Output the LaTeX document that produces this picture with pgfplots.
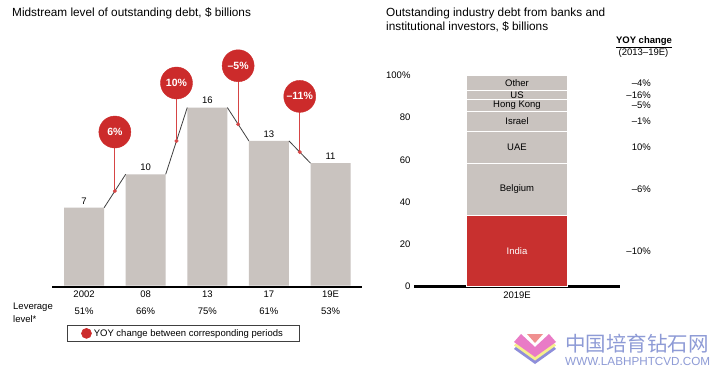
\documentclass[border=0pt]{standalone}
\usepackage{pgfplots}
\pgfplotsset{compat=1.18}
\usepackage{fontspec}
\setmainfont{Liberation Sans}
\newfontfamily\cjk{Noto Sans CJK SC}
\definecolor{barGrey}{RGB}{201,195,191}
\definecolor{circRed}{RGB}{204,43,43}
\definecolor{indiaRed}{RGB}{200,48,47}
\definecolor{stemRed}{RGB}{214,69,69}
\definecolor{lineGrey}{RGB}{64,64,64}
\definecolor{wmBlue}{RGB}{142,155,214}
\definecolor{wmPink}{RGB}{233,123,198}
\definecolor{wmSalmon}{RGB}{240,144,144}
\definecolor{wmYellow}{RGB}{246,240,140}
\definecolor{wmViolet}{RGB}{142,142,218}
\newcommand\sm{\fontsize{9.5}{11.4}\selectfont}
\newcommand\ttl{\fontsize{11.8}{13.4}\selectfont}
\pgfplotsset{/pgf/number format/assume math mode=true}
\begin{document}
\begin{tikzpicture}
\useasboundingbox (0pt,0pt) rectangle (714pt,367pt);
\fill[white] (0pt,0pt) rectangle (714pt,367pt);
% titles
\node[anchor=base west, inner sep=0, font=\ttl] at (12pt,350.3pt) {Midstream level of outstanding debt, \$ billions};
\node[anchor=base west, inner sep=0, font=\ttl] at (386pt,350pt) {Outstanding industry debt from banks and};
\node[anchor=base west, inner sep=0, font=\ttl] at (386pt,336.3pt) {institutional investors, \$ billions};
% leverage label
\node[anchor=base west, inner sep=0, font=\sm] at (13pt,57.3pt) {Leverage};
\node[anchor=base west, inner sep=0, font=\sm] at (13pt,44.7pt) {level*};

\begin{axis}[
  at={(52pt,81.3pt)}, anchor=south west, scale only axis,
  width=310pt, height=245pt,
  xmin=-0.52, xmax=4.51, ymin=0, ymax=22,
  axis x line*=bottom, axis y line*=left,
  y axis line style={draw=none}, ytick=\empty,
  x axis line style={draw=none},
  xtick={0,1,2,3,4},
  xticklabels={{2002\\51\%},{08\\66\%},{13\\75\%},{17\\61\%},{19E\\53\%}},
  major tick length=0,
  xticklabel style={align=center, font=\fontsize{9.5}{16.7}\selectfont, yshift=-2pt},
  clip=false,
  legend style={at={(0.048,-0.16)}, anchor=north west, draw=black!75, line width=0.6pt,
    font=\sm, inner xsep=14pt, inner ysep=2pt, legend cell align=left},
]
\addplot[ybar, bar width=40pt, fill=barGrey, draw=none, forget plot,
  nodes near coords, nodes near coords style={font=\sm, text=black}]
  coordinates {(0,7) (1,10) (2,16) (3,13) (4,11)};
\addplot[black, line width=2.5pt, forget plot] coordinates {(-0.52,-0.1) (4.51,-0.1)};
\addplot[lineGrey, line width=0.8pt, forget plot] coordinates {(0.325,7) (0.675,10)};
\addplot[lineGrey, line width=0.8pt, forget plot] coordinates {(1.325,10) (1.675,16)};
\addplot[lineGrey, line width=0.8pt, forget plot] coordinates {(2.325,16) (2.675,13)};
\addplot[lineGrey, line width=0.8pt, forget plot] coordinates {(3.325,13) (3.675,11)};
\addplot[stemRed, line width=0.8pt, forget plot] coordinates {(0.5,8.5) (0.5,13.8)};
\addplot[stemRed, line width=0.8pt, forget plot] coordinates {(1.5,13) (1.5,18.2)};
\addplot[stemRed, line width=0.8pt, forget plot] coordinates {(2.5,14.5) (2.5,19.75)};
\addplot[stemRed, line width=0.8pt, forget plot] coordinates {(3.5,12) (3.5,17.0)};
\addplot[only marks, mark=*, mark size=1.8pt, stemRed, forget plot]
  coordinates {(0.5,8.5) (1.5,13) (2.5,14.5) (3.5,12)};
\addplot[only marks, mark=*, mark size=16pt, circRed, forget plot,
  point meta=explicit symbolic, nodes near coords,
  nodes near coords style={anchor=center, text=white, font=\bfseries\fontsize{10.5}{12}\selectfont}]
  coordinates {(0.5,13.8) [6\%] (1.5,18.2) [10\%] (2.5,19.75) [–5\%] (3.5,17.0) [–11\%]};
\addlegendimage{legend image code/.code={\fill[circRed] (8pt,0pt) circle (5pt);}}
\addlegendentry{YOY change between corresponding periods}
\end{axis}

\begin{axis}[
  at={(414pt,80.5pt)}, anchor=south west, scale only axis,
  width=206pt, height=211pt,
  xmin=-1, xmax=1, ymin=0, ymax=100,
  ybar stacked, bar width=101pt,
  axis x line*=bottom, axis y line*=left,
  y axis line style={draw=none},
  x axis line style={line width=2.5pt,-},
  xtick={0}, xticklabels={2019E},
  ytick={0,20,40,60,80,100}, yticklabels={0,20,40,60,80,100\%},
  major tick length=0,
  xticklabel style={font=\sm, yshift=-2pt},
  yticklabel style={font=\sm},
  clip=false,
  nodes near coords style={anchor=center, font=\sm},
]
\addplot[fill=indiaRed, draw=white, line width=0.8pt, nodes near coords={India},
  nodes near coords style={text=white}] coordinates {(0,33.5)};
\addplot[fill=barGrey, draw=white, line width=0.8pt, nodes near coords={Belgium},
  nodes near coords style={text=black}] coordinates {(0,25)};
\addplot[fill=barGrey, draw=white, line width=0.8pt, nodes near coords={UAE},
  nodes near coords style={text=black}] coordinates {(0,15)};
\addplot[fill=barGrey, draw=white, line width=0.8pt, nodes near coords={Israel},
  nodes near coords style={text=black}] coordinates {(0,9.5)};
\addplot[fill=barGrey, draw=white, line width=0.8pt, nodes near coords={Hong Kong},
  nodes near coords style={text=black}] coordinates {(0,5.5)};
\addplot[fill=barGrey, draw=white, line width=0.8pt, nodes near coords={US},
  nodes near coords style={text=black}] coordinates {(0,4.5)};
\addplot[fill=barGrey, draw=white, line width=0.8pt, nodes near coords={Other},
  nodes near coords style={text=black}] coordinates {(0,7)};
% YOY column
\node[anchor=east, font=\sm] at (axis cs:1.333,16.75) {–10\%};
\node[anchor=east, font=\sm] at (axis cs:1.333,46) {–6\%};
\node[anchor=east, font=\sm] at (axis cs:1.333,66) {10\%};
\node[anchor=east, font=\sm] at (axis cs:1.333,78.25) {–1\%};
\node[anchor=east, font=\sm] at (axis cs:1.333,85.75) {–5\%};
\node[anchor=east, font=\sm] at (axis cs:1.333,90.75) {–16\%};
\node[anchor=east, font=\sm] at (axis cs:1.333,96.5) {–4\%};
\end{axis}
\node[anchor=base, inner sep=0, font=\bfseries\sm] at (644pt,323.7pt) {\underline{YOY change}};
\node[anchor=base, inner sep=0, font=\sm] at (643.5pt,311pt) {(2013–19E)};

% watermark
\begin{scope}[x=1pt,y=1pt]
\fill[wmViolet] (521,26) -- (514,18) -- (535,3) -- (535,13) -- cycle;
\fill[wmViolet] (549,26) -- (556,18) -- (535,3) -- (535,13) -- cycle;
\fill[wmYellow] (521,29.5) -- (514,21.5) -- (535,6.5) -- (535,16.5) -- cycle;
\fill[wmYellow] (549,29.5) -- (556,21.5) -- (535,6.5) -- (535,16.5) -- cycle;
\fill[wmPink] (521,33) -- (514,25) -- (535,10) -- (535,20) -- cycle;
\fill[wmPink] (549,33) -- (556,25) -- (535,10) -- (535,20) -- cycle;
\fill[wmSalmon] (527,33) -- (543,33) -- (535,24) -- cycle;
\node[anchor=west, inner sep=0, font=\cjk\fontsize{20.5}{22}\selectfont, text=wmBlue] at (565,23.7) {中国培育钻石网};
\node[anchor=base west, inner sep=0, font=\fontsize{11.7}{13}\selectfont, text=wmBlue] at (565,2) {WWW.LABHPHTCVD.COM};
\end{scope}
\end{tikzpicture}
\end{document}
